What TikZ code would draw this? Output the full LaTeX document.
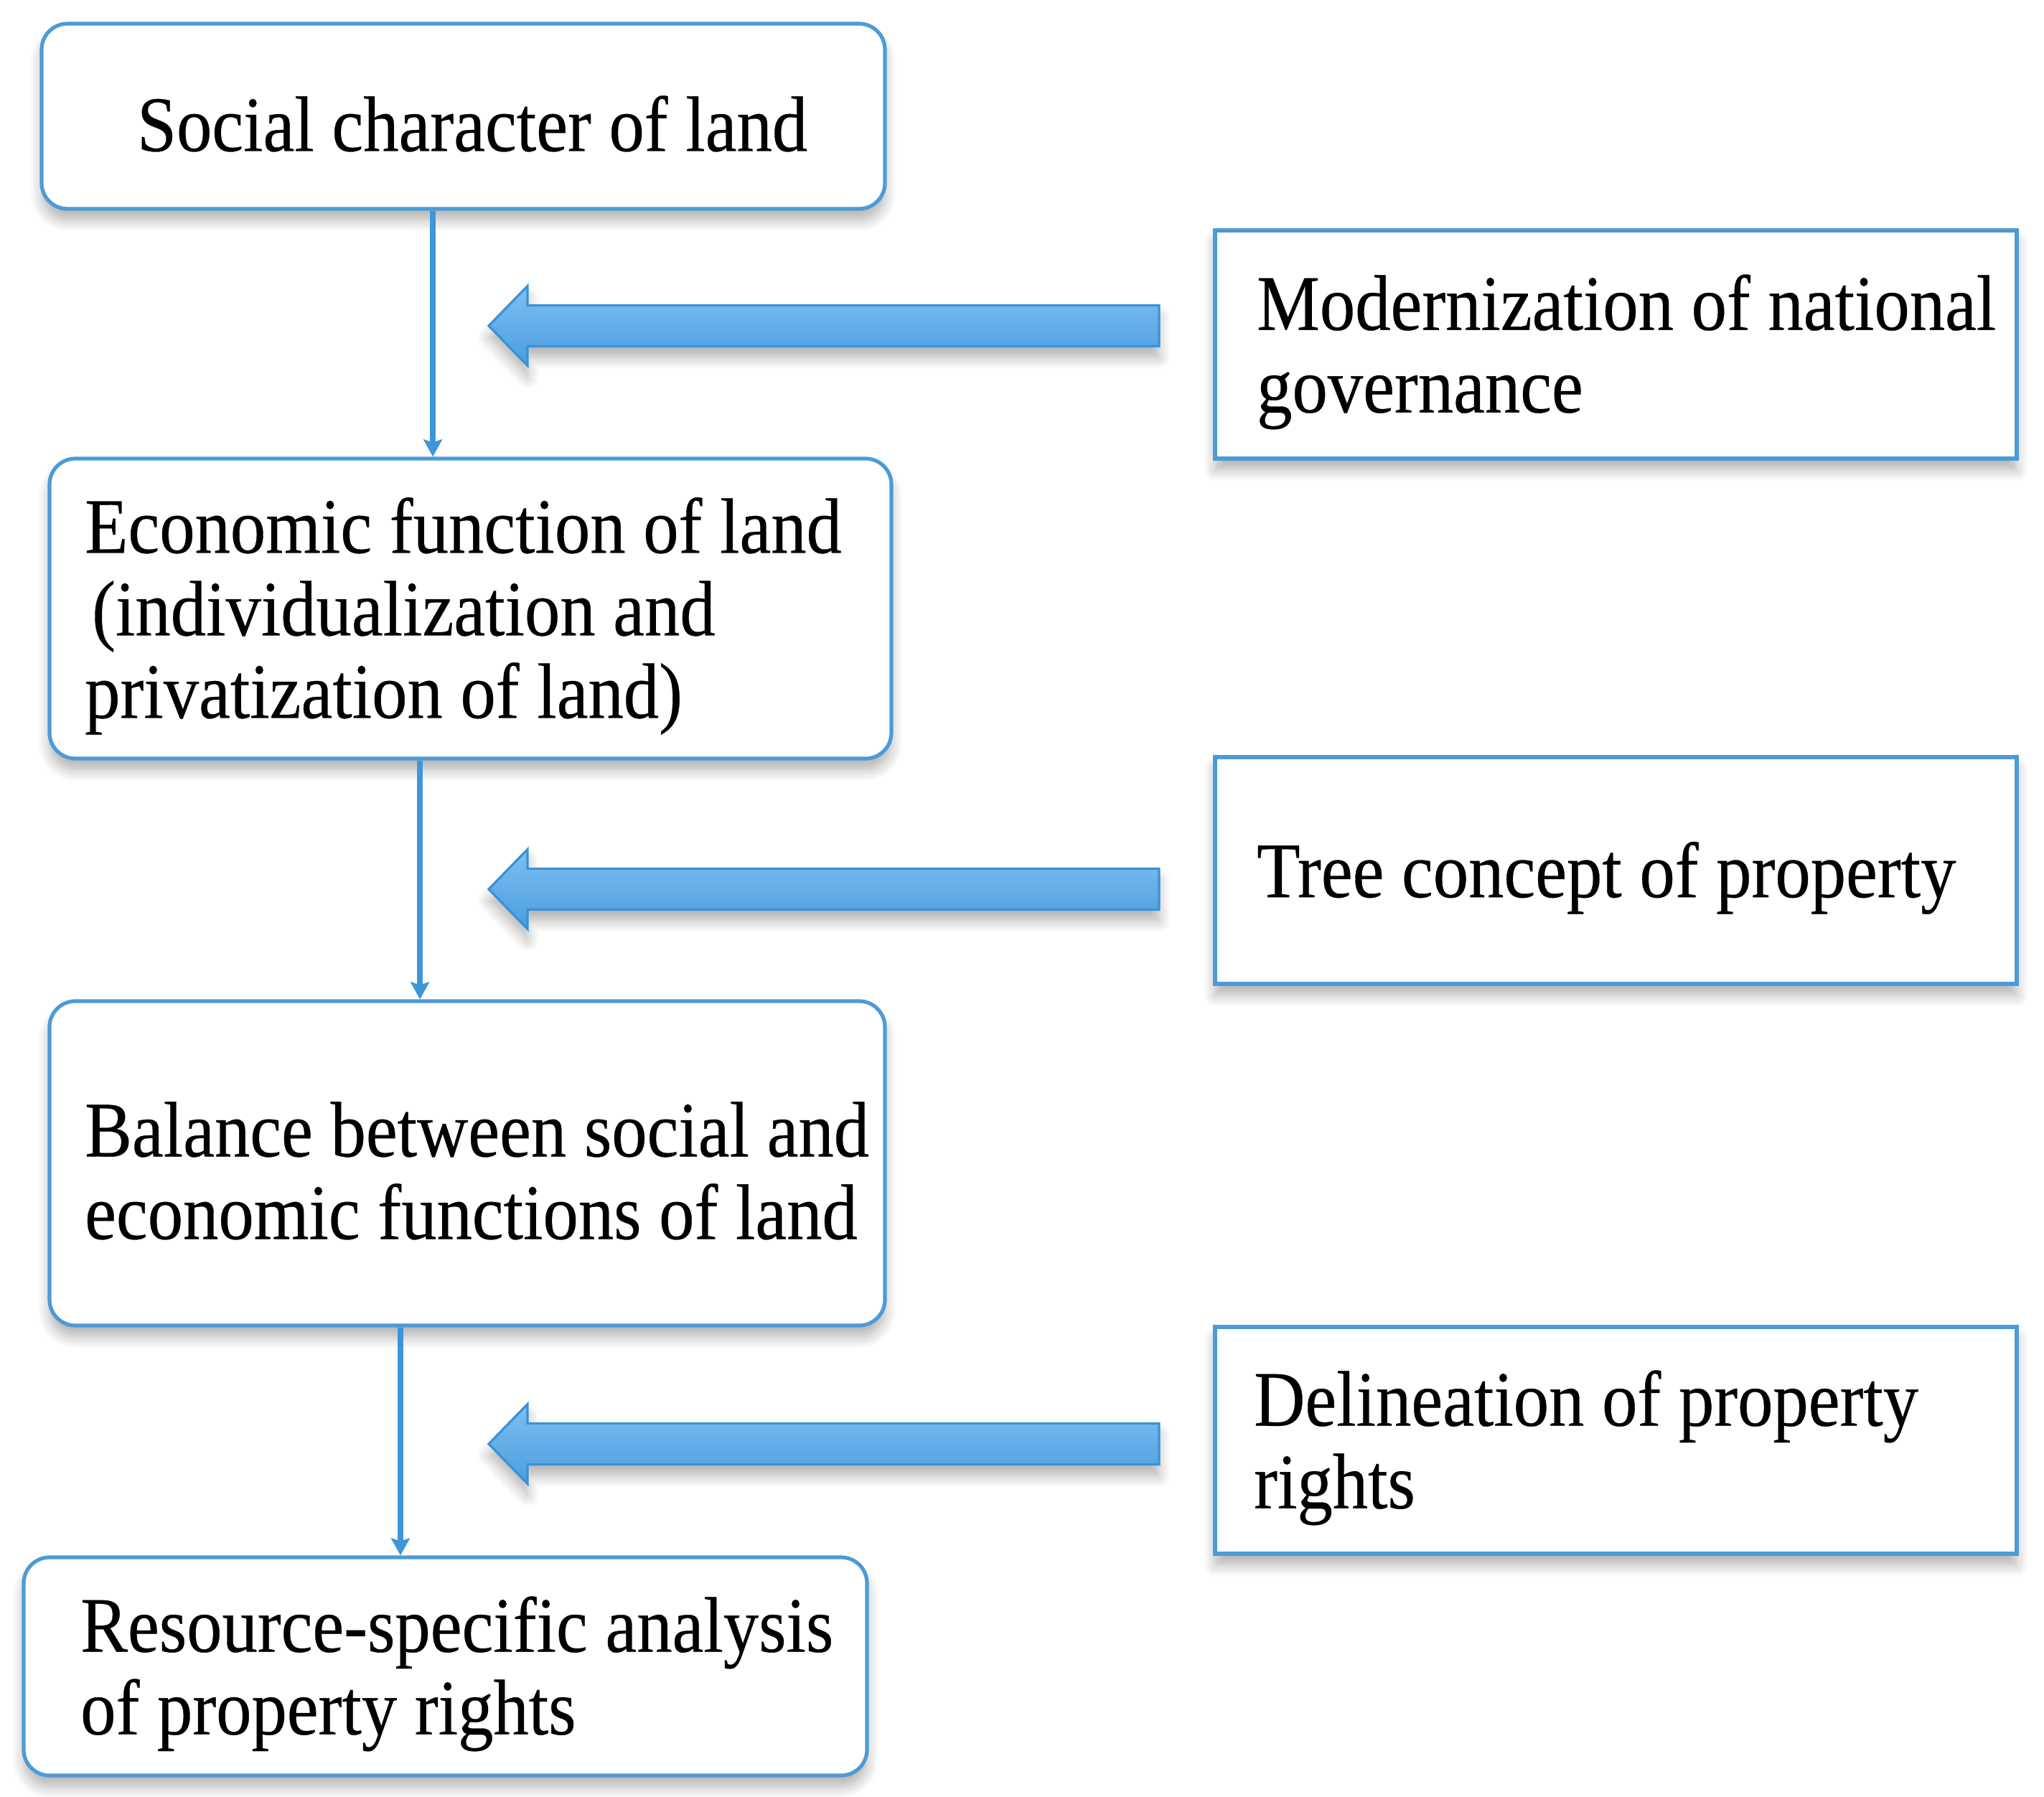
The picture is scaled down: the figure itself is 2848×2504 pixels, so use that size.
\documentclass[tikz,border=0pt]{standalone}
\usepackage{fontspec}
\setmainfont{Liberation Serif}[FakeStretch=0.9,FakeBold=0.3]
\usetikzlibrary{arrows.meta,shadows.blur,calc}
\definecolor{boxblue}{RGB}{76,155,214}
\definecolor{lineblue}{RGB}{62,150,216}
\definecolor{arrtop}{RGB}{128,190,242}
\definecolor{arrbot}{RGB}{72,158,222}
\definecolor{arrborder}{RGB}{58,146,212}
\begin{document}
\begin{tikzpicture}[x=0.25pt,y=-0.25pt,
  shadowed/.style={blur shadow={shadow blur steps=8,shadow xshift=0pt,shadow yshift=-4pt,shadow opacity=30,shadow blur radius=4pt}},
  rbox/.style={draw=boxblue,line width=1.3pt,rounded corners=9pt,fill=white,shadowed,inner sep=0pt},
  sbox/.style={draw=boxblue,line width=1.3pt,fill=white,shadowed,inner sep=0pt},
  txt/.style={inner sep=0pt,align=left,anchor=west,yshift=-2.6pt,font=\fontsize{27.4pt}{28.75pt}\selectfont},
  conn/.style={draw=lineblue,line width=2.1pt,-{Stealth[length=6pt,width=6.5pt,inset=1pt]}},
  barrow/.style={draw=arrborder,line width=0.8pt,top color=arrtop,bottom color=arrbot,shadowed},
]
\useasboundingbox (0,0) rectangle (2848,2504);

% left column boxes
\node[rbox,minimum width=293.75pt,minimum height=64.5pt] (b1) at (645.5,162) {};
\node[rbox,minimum width=293.25pt,minimum height=104.5pt] (b2) at (655.5,848) {};
\node[rbox,minimum width=291pt,minimum height=113pt] (b3) at (651,1621) {};
\node[rbox,minimum width=293.75pt,minimum height=76pt] (b4) at (620.5,2322) {};

% right column boxes
\node[sbox,minimum width=279.25pt,minimum height=79.5pt] (r1) at (2251.5,480) {};
\node[sbox,minimum width=279.25pt,minimum height=79pt] (r2) at (2251.5,1213) {};
\node[sbox,minimum width=279.25pt,minimum height=79pt] (r3) at (2251.5,2007) {};

% texts
\node[txt] (t1) at ([xshift=33.75pt]b1.west) {Social character of land};
\node[txt] (t2) at ([xshift=12.75pt]b2.west) {Economic function of land\\\hspace{2.5pt}(individualization and\\privatization of land)};
\node[txt] (t3) at ([xshift=12.75pt]b3.west) {Balance between social and\\economic functions of land};
\node[txt] (t4) at ([xshift=20.25pt]b4.west) {Resource-specific analysis\\of property rights};
\node[txt] (tr1) at ([xshift=15pt]r1.west) {Modernization of national\\governance};
\node[txt] (tr2) at ([xshift=15pt]r2.west) {Tree concept of property};
\node[txt] (tr3) at ([xshift=14pt]r3.west) {Delineation of property\\rights};

% vertical connectors
\draw[conn] ([xshift=-10.6pt]b1.south) -- ([xshift=-10.6pt]b1.south |- b2.north);
\draw[conn] ([xshift=-17.6pt]b2.south) -- ([xshift=-17.6pt]b2.south |- b3.north);
\draw[conn] ([xshift=-23.25pt]b3.south) -- ([xshift=-23.25pt]b3.south |- b4.north);

% block arrows
\foreach \y/\n in {454/1,1239/2,2012/3}{
  \coordinate (tip\n) at (681,\y);
  \draw[barrow] (1615,\y-28.5) -- (735,\y-28.5) -- (735,\y-55.5) -- (tip\n)
     -- (735,\y+55.5) -- (735,\y+28.5) -- (1615,\y+28.5) -- cycle;
}
\end{tikzpicture}
\end{document}
